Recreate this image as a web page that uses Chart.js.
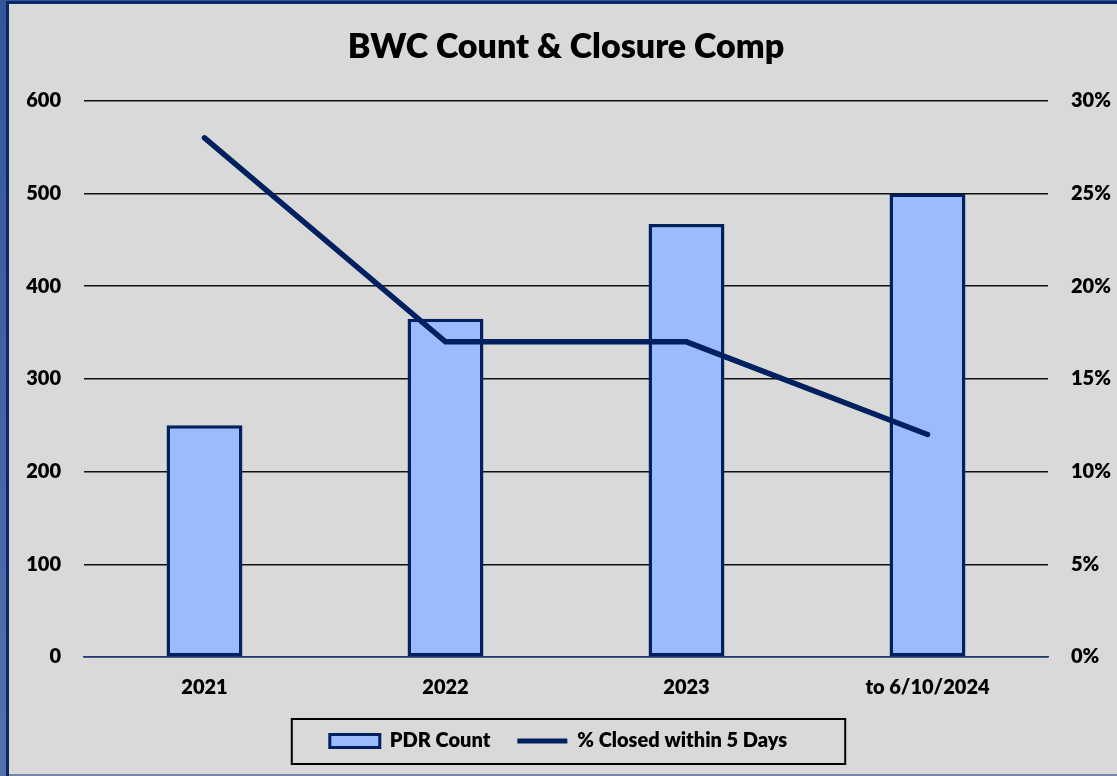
<!DOCTYPE html>
<html>
<head>
<meta charset="utf-8">
<script src="https://cdn.jsdelivr.net/npm/chart.js@4.4.1/dist/chart.umd.min.js"></script>
<style>
  html, body { margin: 0; padding: 0; }
  #frame { position: absolute; left: 0; top: 0; width: 1117px; height: 776px; background: #d9d9d9; overflow: hidden; }
  .strip { position: absolute; }
  #wrap { position: absolute; left: 0; top: 0; width: 1117px; height: 776px; }
</style>
</head>
<body>
<div id="frame">
  <div class="strip" style="left:0;top:0;width:6px;height:776px;background:linear-gradient(#34559c,#5571ab);"></div>
  <div class="strip" style="left:0;top:0;width:1117px;height:1px;background:#34559c;"></div>
  <div class="strip" style="left:6px;top:1px;width:1111px;height:3px;background:#0c2768;"></div>
  <div class="strip" style="left:6px;top:1px;width:3px;height:775px;background:#0c2768;"></div>
  <div class="strip" style="left:9px;top:774px;width:1108px;height:2px;background:#7686ad;"></div>
</div>
<div id="wrap"><canvas id="bwcChart" width="1117" height="776"></canvas></div>
<script>
const categories = ['2021', '2022', '2023', 'to 6/10/2024'];
const pdrCount = [250, 365, 467, 500];
const closedPct = [28, 17, 17, 12];

const navy = '#002060';
const barBlue = '#9bbbff';
const font = { family: 'Lato', weight: '800', size: 20 };

// frame drawn round the legend, like the excel one
const legendFrame = {
  id: 'legendFrame',
  afterDraw(chart) {
    const hb = chart.legend && chart.legend.legendHitBoxes;
    if (!hb || !hb.length) return;
    const first = hb[0], last = hb[hb.length - 1];
    const cy = first.top + first.height / 2;
    const ctx = chart.ctx;
    ctx.save();
    ctx.strokeStyle = '#000';
    ctx.lineWidth = 2;
    const x0 = first.left - 38;
    const x1 = last.left + last.width + 58;
    ctx.strokeRect(x0, cy - 22, x1 - x0, 45);
    ctx.restore();
  }
};

new Chart(document.getElementById('bwcChart'), {
  data: {
    labels: categories,
    datasets: [
      {
        type: 'bar',
        label: 'PDR Count',
        data: pdrCount,
        backgroundColor: barBlue,
        borderColor: navy,
        borderWidth: 3.5,
        borderSkipped: false,
        categoryPercentage: 1,
        barPercentage: 0.315,
        yAxisID: 'y',
        order: 2
      },
      {
        type: 'line',
        label: '% Closed within 5 Days',
        data: closedPct,
        borderColor: navy,
        backgroundColor: navy,
        borderWidth: 5.5,
        borderCapStyle: 'round',
        pointRadius: 0,
        tension: 0,
        yAxisID: 'y1',
        order: 1
      }
    ]
  },
  options: {
    responsive: false,
    animation: false,
    layout: { padding: { left: 0, right: 0, top: 0, bottom: 15 } },
    plugins: {
      title: {
        display: true,
        text: 'BWC Count & Closure Comp',
        color: '#000',
        fullSize: false,
        font: { family: 'Lato', weight: '800', size: 34 },
        padding: { top: 27, bottom: 33 }
      },
      legend: {
        position: 'bottom',
        labels: {
          color: '#000',
          font: font,
          usePointStyle: true,
          pointStyleWidth: 50,
          boxHeight: 13,
          padding: 27,
          generateLabels: chart => {
            const items = Chart.defaults.plugins.legend.labels.generateLabels(chart);
            items.sort((a, b) => a.datasetIndex - b.datasetIndex);
            items[0].pointStyle = 'rect';
            items[0].lineWidth = 3;
            items[1].pointStyle = 'line';
            items[1].lineWidth = 5;
            return items;
          }
        }
      },
      tooltip: { enabled: false }
    },
    scales: {
      x: {
        grid: { display: false, drawTicks: false },
        border: { display: true, color: '#1f3b78', width: 1.5 },
        ticks: { color: '#000', font: font, padding: 19 },
        afterFit: s => { s.height = 47; }
      },
      y: {
        position: 'left',
        min: 0,
        max: 600,
        ticks: { stepSize: 100, color: '#000', font: font, padding: 23 },
        grid: { color: '#111', lineWidth: 1.5, drawTicks: false },
        border: { display: false },
        afterFit: s => { s.width = 84; }
      },
      y1: {
        position: 'right',
        min: 0,
        max: 30,
        ticks: { stepSize: 5, color: '#000', font: font, padding: 23, callback: v => v + '%' },
        grid: { display: false, drawTicks: false },
        border: { display: false },
        afterFit: s => { s.width = 69; }
      }
    }
  },
  plugins: [legendFrame]
});
</script>
</body>
</html>
